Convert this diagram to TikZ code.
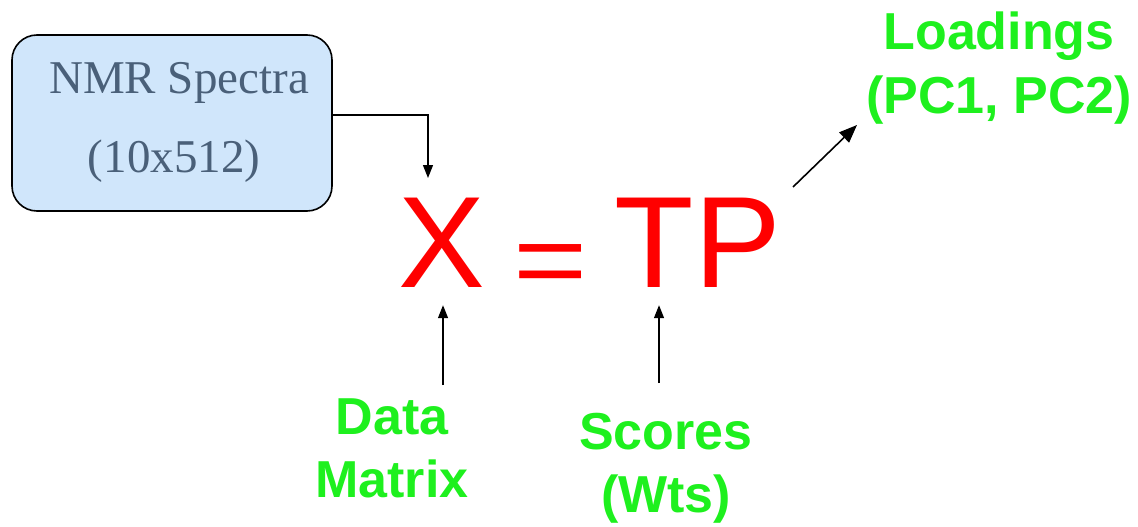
\documentclass[tikz,border=0pt]{standalone}
\usepackage{fontspec}
\setmainfont{Liberation Sans}
\newfontfamily\serifface{Liberation Serif}
\usetikzlibrary{arrows.meta}
\definecolor{boxblue}{RGB}{208,230,251}
\definecolor{slate}{RGB}{74,96,121}
\definecolor{lgreen}{RGB}{30,240,30}
\definecolor{eqred}{RGB}{255,0,0}
\tikzset{
  boxtext/.style={anchor=base, inner sep=0pt, text=slate, font=\serifface\fontsize{47}{54}\selectfont},
  eqtext/.style={anchor=base, inner sep=0pt, text=eqred, font=\fontsize{130}{150}\selectfont},
  lbl/.style={anchor=base, inner sep=0pt, align=center, text=lgreen, font=\bfseries\fontsize{52}{63}\selectfont},
  arr/.style={line width=1.3pt, -{Triangle[length=13pt,width=10pt]}},
  arrbig/.style={line width=1.6pt, -{Triangle[length=18pt,width=14pt]}}
}
\begin{document}
\begin{tikzpicture}[x=1pt,y=-1pt]
\useasboundingbox (0,0) rectangle (1138,527);
\node[draw, line width=1.6pt, rounded corners=25pt, fill=boxblue, minimum width=320pt, minimum height=176pt, inner sep=0pt] (box) at (172,123) {};
\node[boxtext] (t1) at (179,93) {NMR Spectra};
\node[boxtext] (t2) at (174,172) {(10x512)};
\node[eqtext] (X) at (441.5,287) {X};
\node[eqtext, font=\fontsize{106}{130}\selectfont, xscale=1.2] (eq) at (551,296) {=};
\node[eqtext] (TP) at (698,287) {TP};
\node[lbl] (dm) at (392,497) {Data\\Matrix};
\node[lbl] (sc) at (666,512) {Scores\\(Wts)};
\node[lbl] (ld) at (999,113) {Loadings\\(PC1, PC2)};
\coordinate (xin) at (428,178);
\coordinate (xa) at (443,385);
\coordinate (ta) at (659,383);
\coordinate (la) at (793,187);
\coordinate (lb) at (857,125);
\draw[arr] ([yshift=8pt]box.east) -| (xin);
\draw[arr] (xa) -- ([yshift=-18pt]xa |- X.south);
\draw[arr] (ta) -- ([yshift=-18pt]ta |- TP.south);
\draw[arrbig] (la) -- (lb);
\end{tikzpicture}
\end{document}
